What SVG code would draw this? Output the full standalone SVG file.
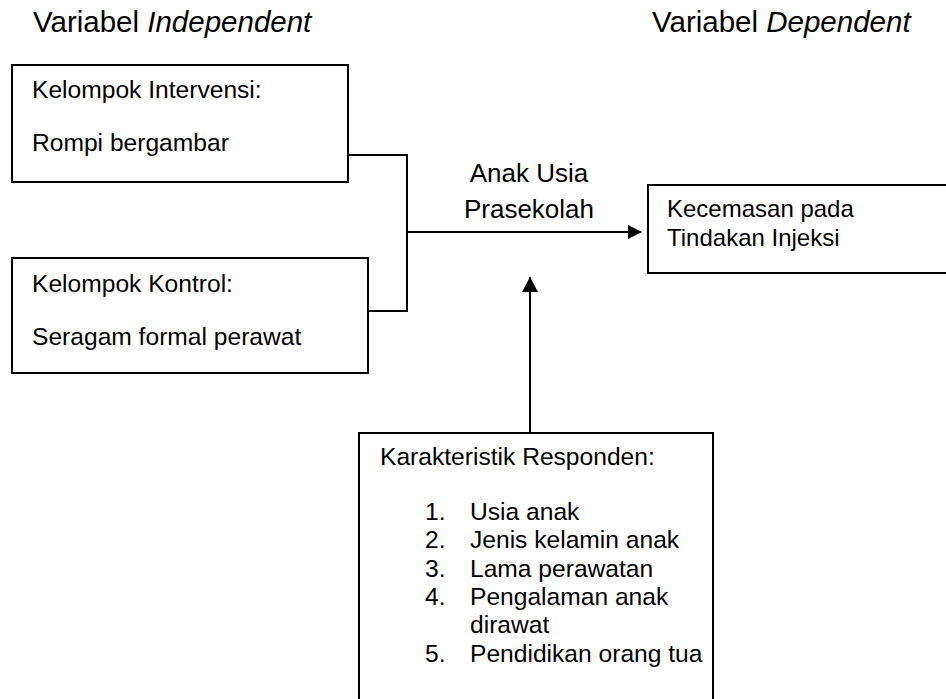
<svg xmlns="http://www.w3.org/2000/svg" width="946" height="699" viewBox="0 0 946 699">
<defs>
<style>
text{font-family:"Liberation Sans",Arial,sans-serif;fill:#000}
.t{font-size:29.5px}
.b{font-size:24.6px}
.r{font-size:24px}
.m{font-size:26px}
.box{fill:#fff;stroke:#000;stroke-width:2}
.ln{fill:none;stroke:#000;stroke-width:2}
</style>
<marker id="ah" markerWidth="14" markerHeight="14" refX="13" refY="7" orient="auto" markerUnits="userSpaceOnUse">
<path d="M0,0 L14,7 L0,14 Z" fill="#000"/>
</marker>
<marker id="ah2" markerWidth="15" markerHeight="16" refX="15" refY="8" orient="auto" markerUnits="userSpaceOnUse">
<path d="M0,0 L15,8 L0,16 Z" fill="#000"/>
</marker>
</defs>
<rect width="946" height="699" fill="#fff"/>
<g id="titles">
<text class="t" x="33" y="32">Variabel <tspan font-style="italic">Independent</tspan></text>
<text class="t" x="652" y="32">Variabel <tspan font-style="italic">Dependent</tspan></text>
</g>
<g id="connectors">
<polyline class="ln" points="348,155 407,155 407,311 368,311"/>
<line class="ln" x1="407" y1="232" x2="641" y2="232" marker-end="url(#ah)"/>
<line class="ln" x1="530" y1="433" x2="530" y2="277" marker-end="url(#ah2)"/>
</g>
<g id="intervensi">
<rect class="box" x="12" y="65" width="336" height="117"/>
<text class="b" x="32" y="98">Kelompok Intervensi:</text>
<text class="b" x="32" y="151">Rompi bergambar</text>
</g>
<g id="kontrol">
<rect class="box" x="12" y="258" width="356" height="115"/>
<text class="b" x="32" y="292">Kelompok Kontrol:</text>
<text class="b" x="32" y="345">Seragam formal perawat</text>
</g>
<g id="label-anak">
<text class="m" x="529" y="182" text-anchor="middle">Anak Usia</text>
<text class="m" x="529" y="218" text-anchor="middle">Prasekolah</text>
</g>
<g id="kecemasan">
<rect class="box" x="648" y="185" width="310" height="88"/>
<text class="r" x="667" y="217">Kecemasan pada</text>
<text class="r" x="667" y="246">Tindakan Injeksi</text>
</g>
<g id="karakteristik">
<rect class="box" x="359" y="433" width="354" height="280"/>
<text class="b" x="380" y="465">Karakteristik Responden:</text>
<text class="b" x="425" y="520">1.</text><text class="b" x="470" y="520">Usia anak</text>
<text class="b" x="425" y="548">2.</text><text class="b" x="470" y="548">Jenis kelamin anak</text>
<text class="b" x="425" y="577">3.</text><text class="b" x="470" y="577">Lama perawatan</text>
<text class="b" x="425" y="605">4.</text><text class="b" x="470" y="605">Pengalaman anak</text>
<text class="b" x="470" y="633">dirawat</text>
<text class="b" x="425" y="662">5.</text><text class="b" x="470" y="662">Pendidikan orang tua</text>
</g>
</svg>
